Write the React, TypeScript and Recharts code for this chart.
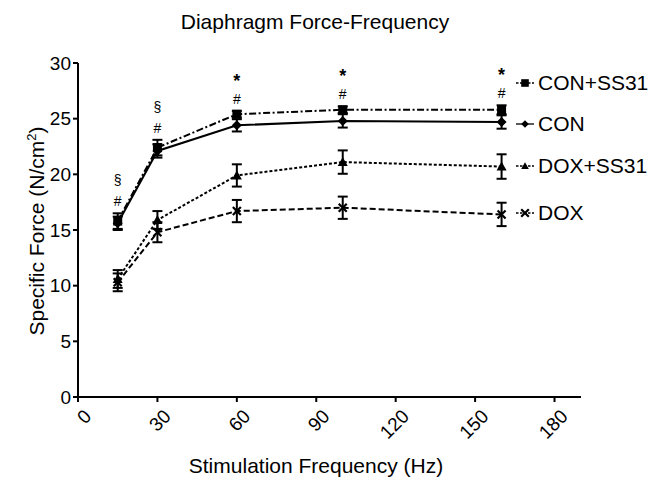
import React from 'react';
import {
  ComposedChart,
  Line,
  XAxis,
  YAxis,
  ErrorBar,
  Legend,
  LabelList,
  Customized,
} from 'recharts';

const FONT = '"Liberation Sans", Arial, sans-serif';

const frequencies = [15, 30, 60, 100, 160];
const conSS31 = [15.8, 22.4, 25.4, 25.8, 25.8];
const conSS31Err = [0.7, 0.7, 0.3, 0.3, 0.4];
const con = [15.6, 22.1, 24.4, 24.8, 24.7];
const conErr = [0.6, 0.6, 0.55, 0.6, 0.6];
const doxSS31 = [10.6, 15.9, 19.9, 21.1, 20.7];
const doxSS31Err = [0.8, 0.8, 1.0, 1.05, 1.1];
const dox = [10.3, 14.8, 16.7, 17.0, 16.4];
const doxErr = [0.8, 0.9, 1.0, 1.0, 1.05];

const xTicks = [0, 30, 60, 90, 120, 150, 180];
const yTicks = [0, 5, 10, 15, 20, 25, 30];
const upperMarks = ['§', '§', '*', '*', '*'];
const lowerMarks = ['#', '#', '#', '#', '#'];
const seriesNames = ['CON+SS31', 'CON', 'DOX+SS31', 'DOX'];

const data = frequencies.map((hz, i) => ({
  hz,
  conSS31: conSS31[i],
  conSS31Err: conSS31Err[i],
  con: con[i],
  conErr: conErr[i],
  doxSS31: doxSS31[i],
  doxSS31Err: doxSS31Err[i],
  dox: dox[i],
  doxErr: doxErr[i],
  annoTop: conSS31[i] + conSS31Err[i],
}));

type MP = { cx: number; cy: number; s?: number };
const Square = ({ cx, cy, s = 4.5 }: MP) => (
  <rect x={cx - s} y={cy - s} width={2 * s} height={2 * s} fill="#000" />
);
const Diamond = ({ cx, cy, s = 5 }: MP) => (
  <polygon
    points={`${cx},${cy - s} ${cx + s},${cy} ${cx},${cy + s} ${cx - s},${cy}`}
    fill="#000"
  />
);
const Triangle = ({ cx, cy, s = 5 }: MP) => (
  <polygon
    points={`${cx},${cy - s} ${cx + s},${cy + s * 0.8} ${cx - s},${cy + s * 0.8}`}
    fill="#000"
  />
);
const Cross = ({ cx, cy, s = 4 }: MP) => (
  <path
    d={`M${cx - s},${cy - s}L${cx + s},${cy + s}M${cx + s},${cy - s}L${cx - s},${cy + s}`}
    stroke="#000"
    strokeWidth={2.2}
    fill="none"
  />
);

const seriesStyles = [
  { key: 'conSS31', err: 'conSS31Err', dash: '7 2.5 2 2.5', Marker: Square },
  { key: 'con', err: 'conErr', dash: undefined, Marker: Diamond },
  { key: 'doxSS31', err: 'doxSS31Err', dash: '3 2', Marker: Triangle },
  { key: 'dox', err: 'doxErr', dash: '6 3', Marker: Cross },
];

// vertical offsets of legend rows (style only)
const legendRowTops = [0, 41, 83, 130];

const renderLegend = () => (
  <div style={{ fontFamily: FONT, color: '#000', position: 'relative', height: 160 }}>
    {seriesStyles.map((st, i) => {
      const M = st.Marker;
      return (
        <div
          key={seriesNames[i]}
          style={{
            position: 'absolute',
            top: legendRowTops[i],
            left: 0,
            height: 24,
            display: 'flex',
            alignItems: 'center',
            whiteSpace: 'nowrap',
          }}
        >
          <svg width={22} height={20} style={{ display: 'block' }}>
            <line x1={2} y1={10} x2={20} y2={10} stroke="#000" strokeWidth={1.3} strokeDasharray={st.dash ? '2.5 1.5' : undefined} />
            <M cx={11} cy={10} s={3.8} />
          </svg>
          <span style={{ fontSize: 21, marginLeft: 2, lineHeight: '24px' }}>{seriesNames[i]}</span>
        </div>
      );
    })}
  </div>
);

const renderAnno = (props: any) => {
  const { x, y, index } = props;
  if (x == null || y == null) return null;
  const up = upperMarks[index];
  const isStar = up === '*';
  return (
    <g key={`anno-${index}`} fontFamily={FONT} fill="#000">
      {isStar ? (
        <text x={x} y={y - 24} textAnchor="middle" fontSize={18} fontWeight="bold">
          {up}
        </text>
      ) : (
        <text x={x} y={y - 28} textAnchor="middle" fontSize={14}>
          {up}
        </text>
      )}
      <text x={x} y={y - 7} textAnchor="middle" fontSize={14}>
        {lowerMarks[index]}
      </text>
    </g>
  );
};

const XTick = (props: any) => {
  const { x, y, payload } = props;
  const tx = x + 5;
  const ty = y + 4;
  return (
    <text
      x={tx}
      y={ty}
      dy="0.71em"
      textAnchor="end"
      transform={`rotate(-45 ${tx} ${ty})`}
      fontSize={19}
      fontFamily={FONT}
      fill="#000"
    >
      {payload.value}
    </text>
  );
};

const Texts = () => (
  <g fontFamily={FONT} fill="#000">
    <text x={315} y={29} textAnchor="middle" fontSize={21}>
      Diaphragm Force-Frequency
    </text>
    <text x={316} y={473} textAnchor="middle" fontSize={21}>
      Stimulation Frequency (Hz)
    </text>
    <text x={37} y={231} dy={7} textAnchor="middle" fontSize={21} transform="rotate(-90 37 231)">
      Specific Force (N/cm
      <tspan fontSize={13} dy={-8}>2</tspan>
      <tspan dy={8}>)</tspan>
    </text>
  </g>
);

export default function App() {
  return (
    <div style={{ position: 'absolute', left: 0, top: 0, width: 649, height: 479, background: '#fff' }}>
      <ComposedChart
        width={649}
        height={479}
        data={data}
        margin={{ top: 63, right: 68, bottom: 22, left: 0 }}
      >
        <XAxis
          dataKey="hz"
          type="number"
          domain={[0, 190]}
          ticks={xTicks}
          allowDataOverflow
          height={60}
          tickSize={5}
          tickMargin={2}
          axisLine={{ stroke: '#000', strokeWidth: 2 }}
          tickLine={{ stroke: '#000', strokeWidth: 2 }}
          tick={<XTick />}
          interval={0}
        />
        <YAxis
          type="number"
          domain={[0, 30]}
          ticks={yTicks}
          width={78}
          tickSize={5}
          tickMargin={2}
          axisLine={{ stroke: '#000', strokeWidth: 2 }}
          tickLine={{ stroke: '#000', strokeWidth: 2 }}
          tick={{ fill: '#000', fontSize: 19, fontFamily: FONT }}
          interval={0}
        />
        {seriesStyles.map((st, i) => {
          const M = st.Marker;
          return (
            <Line
              key={st.key}
              dataKey={st.key}
              name={seriesNames[i]}
              type="linear"
              stroke="#000"
              strokeWidth={2}
              strokeDasharray={st.dash}
              isAnimationActive={false}
              dot={(p: any) => <M key={`${st.key}-${p.index}`} cx={p.cx} cy={p.cy} />}
              activeDot={false}
            >
              <ErrorBar
                dataKey={st.err}
                direction="y"
                width={5}
                stroke="#000"
                strokeWidth={2}
                isAnimationActive={false}
              />
            </Line>
          );
        })}
        <Line
          dataKey="annoTop"
          stroke="none"
          dot={false}
          activeDot={false}
          legendType="none"
          isAnimationActive={false}
        >
          <LabelList dataKey="annoTop" content={renderAnno} />
        </Line>
        <Legend
          layout="vertical"
          align="center"
          verticalAlign="middle"
          content={renderLegend}
          wrapperStyle={{ left: 514, top: 71, width: 135 }}
        />
        <Customized component={Texts} />
      </ComposedChart>
    </div>
  );
}
